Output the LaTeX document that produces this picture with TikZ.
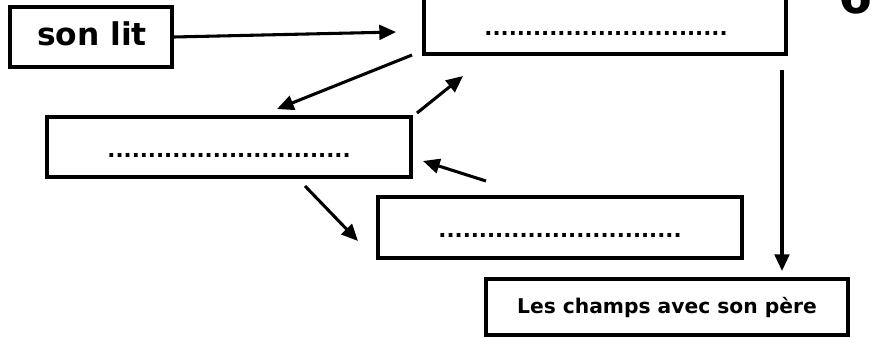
\documentclass[tikz,border=0pt]{standalone}
\usepackage{fontspec}
\setmainfont{DejaVu Sans}
\usetikzlibrary{arrows.meta}

\begin{document}
\begin{tikzpicture}[x=0.75pt, y=-0.75pt,
  boite/.style={draw, line width=2.6pt, inner sep=0pt},
  texte/.style={anchor=base, inner sep=0pt, font=\bfseries\fontsize{#1}{#1}\selectfont},
  fleche/.style={line width=2.3pt, -{Triangle[length=12.5pt, width=11pt]}}]

\def\px{0.75pt}
\def\points{..............................}

\path [use as bounding box] (0,0) rectangle (889,337);
\clip (0,0) rectangle (889,337);

% BOXES
\node [boite, minimum width=162*\px, minimum height=60*\px] (lit) at (91,37) {};
\node [boite, minimum width=362*\px, minimum height=70*\px] (haut) at (605,19) {};
\node [boite, minimum width=364*\px, minimum height=60*\px] (milieu) at (229,147) {};
\node [boite, minimum width=364*\px, minimum height=61*\px] (bas) at (560,227.5) {};
\node [boite, minimum width=362*\px, minimum height=56*\px] (champs) at (667,307) {};

% TEXTS
\node [texte=23.5] (tlit) at (92,45) {son lit};
\node [texte=16] (thaut) at (606,35) {\points};
\node [texte=16] (tmilieu) at (229,157) {\points};
\node [texte=16] (tbas) at (560,237) {\points};
\node [texte=15.2] (tchamps) at (667,313) {Les champs avec son père};
\node [texte=37] (num) at (856,13) {6};

% ARROWS
\coordinate (a1) at (396,32);
\coordinate (b0) at (412,55);
\coordinate (b1) at (277,109);
\coordinate (c0) at (417,113);
\coordinate (c1) at (463,76);
\coordinate (d0) at (486,181);
\coordinate (d1) at (423,161);
\coordinate (e0) at (305,186);
\coordinate (e1) at (358,241);
\coordinate (f0) at (782,70);
\coordinate (f1) at (782,271);

\draw [fleche] (lit.east) -- (a1);
\draw [fleche] (b0) -- (b1);
\draw [fleche] (c0) -- (c1);
\draw [fleche] (d0) -- (d1);
\draw [fleche] (e0) -- (e1);
\draw [fleche] (f0) -- (f1);

\end{tikzpicture}
\end{document}
